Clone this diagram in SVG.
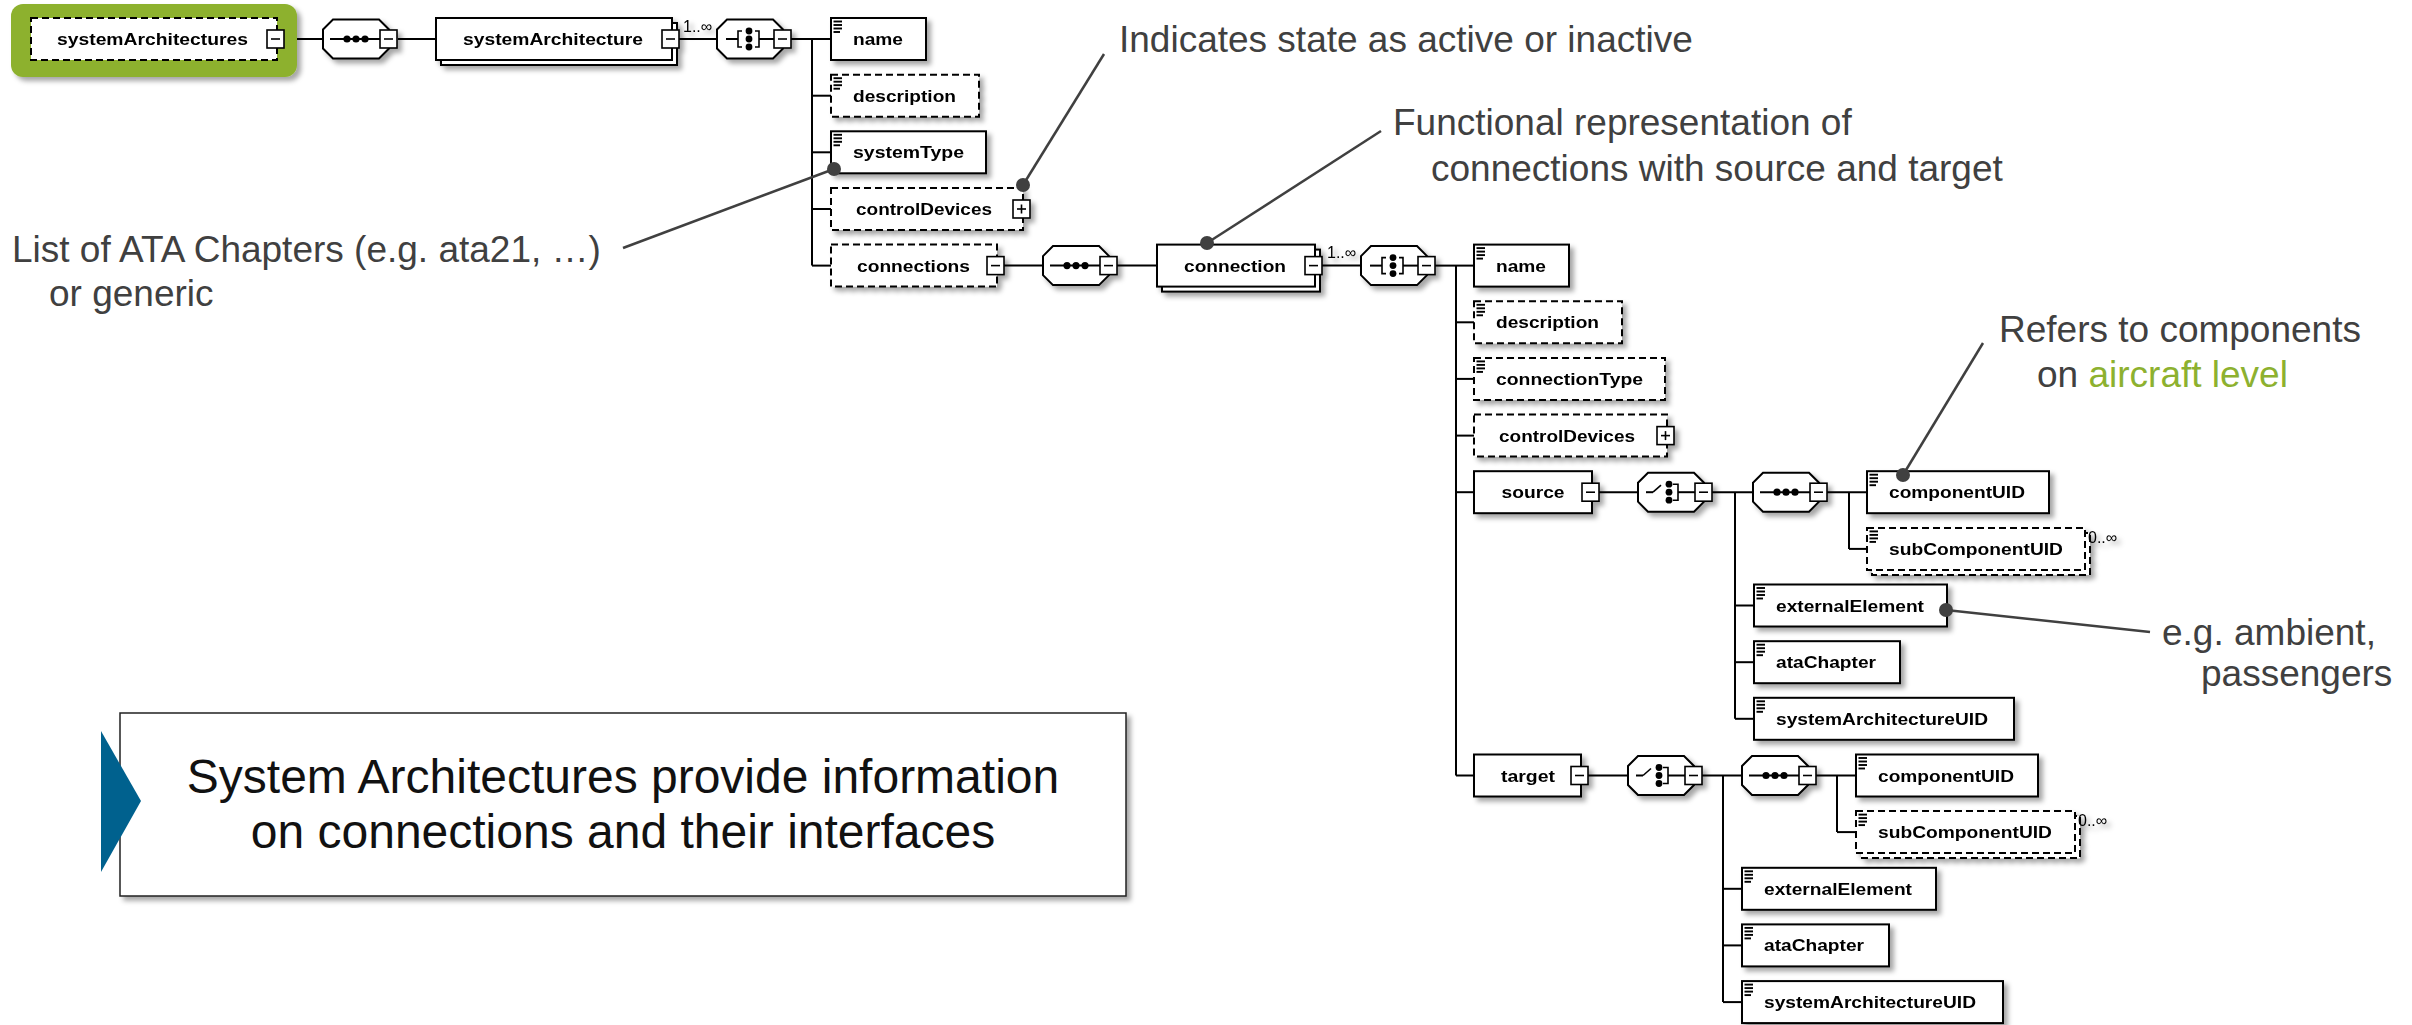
<svg xmlns="http://www.w3.org/2000/svg" xmlns:xlink="http://www.w3.org/1999/xlink" width="2412" height="1025" viewBox="0 0 2412 1025">
<style>
.box{fill:#fff;stroke:#000;stroke-width:2}
.opt{stroke-dasharray:7 4}
.btn{fill:#fff;stroke:#000;stroke-width:1.6}
.ln{stroke:#000;stroke-width:2;fill:none}
.thin{stroke:#000;stroke-width:1.6;fill:none}
.lbl{font-family:"Liberation Sans",Arial,sans-serif;font-weight:bold;font-size:17px;fill:#000}
.card{font-family:"Liberation Sans",Arial,sans-serif;font-size:16px;fill:#000}
.ann{font-family:"Liberation Sans",Arial,sans-serif;font-size:37px;fill:#404040}
.big{font-family:"Liberation Sans",Arial,sans-serif;font-size:48px;fill:#111}
.pt{stroke:#404040;stroke-width:2.5;fill:none}
.dot{fill:#404040}
</style>
<defs>
<filter id="sh" x="-10%" y="-20%" width="130%" height="160%">
<feDropShadow dx="4" dy="4" stdDeviation="2.5" flood-color="#000" flood-opacity="0.35"/>
</filter>
<g id="ico" stroke="#000" stroke-width="1.9">
<line x1="2.5" y1="3.5" x2="11" y2="3.5"/><line x1="2.5" y1="7" x2="11" y2="7"/><line x1="2.5" y1="10.5" x2="11" y2="10.5"/><line x1="2.5" y1="14" x2="9" y2="14"/>
</g>
<path id="oct" d="M0,-9.5 L10,-19.5 H56 L66,-9.5 V9.5 L56,19.5 H10 L0,9.5 Z" fill="#fff" stroke="#000" stroke-width="2"/>
<g id="cminus"><rect class="btn" x="57" y="-9" width="17" height="18"/><line class="thin" x1="61" y1="0" x2="70" y2="0"/></g>
<g id="seqI"><line class="ln" x1="7" y1="0" x2="57" y2="0"/><circle cx="24" cy="0" r="3.6"/><circle cx="33" cy="0" r="3.6"/><circle cx="42" cy="0" r="3.6"/></g>
<g id="allI"><line class="ln" x1="9" y1="0" x2="21" y2="0"/><path class="thin" d="M25,-8 H21 V8 H25"/><circle cx="32" cy="-8" r="3.4"/><circle cx="32" cy="0" r="3.4"/><circle cx="32" cy="8" r="3.4"/><path class="thin" d="M38,-8 H42 V8 H38"/><line class="ln" x1="42" y1="0" x2="57" y2="0"/></g>
<g id="choI"><line class="ln" x1="8" y1="0" x2="15" y2="0"/><line class="thin" x1="15" y1="0" x2="23" y2="-7"/><circle cx="31" cy="-8" r="3.4"/><circle cx="31" cy="0" r="3.4"/><circle cx="31" cy="8" r="3.4"/><path class="thin" d="M35,-8 H40 V8 H35"/><line class="ln" x1="40" y1="0" x2="57" y2="0"/></g>
</defs>
<rect width="2412" height="1025" fill="#fff"/>

<g id="connectors" class="ln">
<line x1="25" y1="39" x2="31" y2="39"/>
<line x1="284" y1="39" x2="323" y2="39"/>
<line x1="398" y1="39" x2="436" y2="39"/>
<line x1="679" y1="39" x2="717" y2="39"/>
<line x1="791" y1="39" x2="812" y2="39"/>
<line x1="812" y1="39" x2="812" y2="265.6"/>
<line x1="812" y1="39" x2="831" y2="39"/>
<line x1="812" y1="95.7" x2="831" y2="95.7"/>
<line x1="812" y1="152.3" x2="831" y2="152.3"/>
<line x1="812" y1="209" x2="831" y2="209"/>
<line x1="812" y1="265.6" x2="831" y2="265.6"/>
<line x1="1004" y1="265.6" x2="1043" y2="265.6"/>
<line x1="1117" y1="265.6" x2="1157" y2="265.6"/>
<line x1="1322" y1="265.6" x2="1361" y2="265.6"/>
<line x1="1435" y1="265.6" x2="1456" y2="265.6"/>
<line x1="1456" y1="265.6" x2="1456" y2="775.5"/>
<line x1="1456" y1="265.6" x2="1474" y2="265.6"/>
<line x1="1456" y1="322.3" x2="1474" y2="322.3"/>
<line x1="1456" y1="378.9" x2="1474" y2="378.9"/>
<line x1="1456" y1="435.6" x2="1474" y2="435.6"/>
<line x1="1456" y1="492.2" x2="1474" y2="492.2"/>
<line x1="1456" y1="775.5" x2="1474" y2="775.5"/>
<line x1="1599" y1="492.2" x2="1638" y2="492.2"/>
<line x1="1712" y1="492.2" x2="1753" y2="492.2"/>
<line x1="1735" y1="492.2" x2="1735" y2="718.8"/>
<line x1="1735" y1="605.5" x2="1754" y2="605.5"/>
<line x1="1735" y1="662.2" x2="1754" y2="662.2"/>
<line x1="1735" y1="718.8" x2="1754" y2="718.8"/>
<line x1="1827" y1="492.2" x2="1867" y2="492.2"/>
<line x1="1849" y1="492.2" x2="1849" y2="548.9"/>
<line x1="1849" y1="548.9" x2="1867" y2="548.9"/>
<line x1="1588" y1="775.5" x2="1628" y2="775.5"/>
<line x1="1702" y1="775.5" x2="1742" y2="775.5"/>
<line x1="1723" y1="775.5" x2="1723" y2="1002.1"/>
<line x1="1723" y1="888.8" x2="1742" y2="888.8"/>
<line x1="1723" y1="945.4" x2="1742" y2="945.4"/>
<line x1="1723" y1="1002.1" x2="1742" y2="1002.1"/>
<line x1="1816" y1="775.5" x2="1856" y2="775.5"/>
<line x1="1837" y1="775.5" x2="1837" y2="832.1"/>
<line x1="1837" y1="832.1" x2="1856" y2="832.1"/>
</g>

<g id="n-systemArchitectures" filter="url(#sh)">
<rect x="11" y="4" width="286" height="73" rx="12" fill="#8db12f"/>
<rect class="box opt" x="31" y="18" width="246" height="42"/>
<rect class="btn" x="267" y="30" width="17" height="18"/><line class="thin" x1="271" y1="39" x2="280" y2="39"/>
<text class="lbl" x="57" y="45" textLength="191" lengthAdjust="spacingAndGlyphs">systemArchitectures</text>
</g>
<g id="c-seq1" filter="url(#sh)" transform="translate(323,39)"><use href="#oct"/><use href="#seqI"/><use href="#cminus"/></g>
<g id="n-systemArchitecture" filter="url(#sh)">
<rect class="box" x="441" y="23" width="236" height="42"/>
<rect class="box" x="436" y="18" width="236" height="42"/>
<rect class="btn" x="662" y="30" width="17" height="18"/><line class="thin" x1="666" y1="39" x2="675" y2="39"/>
<text class="lbl" x="463" y="45" textLength="180" lengthAdjust="spacingAndGlyphs">systemArchitecture</text>
<text class="card" x="683" y="32">1..∞</text>
</g>
<g id="c-all1" filter="url(#sh)" transform="translate(717,39)"><use href="#oct"/><use href="#allI"/><use href="#cminus"/></g>

<g id="n-name" filter="url(#sh)"><rect class="box" x="831" y="18" width="95" height="42"/><use href="#ico" x="831" y="18"/><text class="lbl" x="853" y="45" textLength="50" lengthAdjust="spacingAndGlyphs">name</text></g>
<g id="n-description" filter="url(#sh)"><rect class="box opt" x="831" y="74.7" width="148" height="42"/><use href="#ico" x="831" y="74.7"/><text class="lbl" x="853" y="101.7" textLength="103" lengthAdjust="spacingAndGlyphs">description</text></g>
<g id="n-systemType" filter="url(#sh)"><rect class="box" x="831" y="131.3" width="155" height="42"/><use href="#ico" x="831" y="131.3"/><text class="lbl" x="853" y="158.3" textLength="111" lengthAdjust="spacingAndGlyphs">systemType</text></g>
<g id="n-controlDevices" filter="url(#sh)"><rect class="box opt" x="831" y="188" width="192" height="42"/>
<rect class="btn" x="1013" y="200" width="17" height="18"/><line class="thin" x1="1017" y1="209" x2="1026" y2="209"/><line class="thin" x1="1021.5" y1="204.5" x2="1021.5" y2="213.5"/>
<text class="lbl" x="924" y="215" text-anchor="middle" textLength="136" lengthAdjust="spacingAndGlyphs">controlDevices</text></g>
<g id="n-connections" filter="url(#sh)"><rect class="box opt" x="831" y="244.6" width="166" height="42"/>
<rect class="btn" x="987" y="256.6" width="17" height="18"/><line class="thin" x1="991" y1="265.6" x2="1000" y2="265.6"/>
<text class="lbl" x="857" y="271.6" textLength="113" lengthAdjust="spacingAndGlyphs">connections</text></g>
<g id="c-seq2" filter="url(#sh)" transform="translate(1043,265.6)"><use href="#oct"/><use href="#seqI"/><use href="#cminus"/></g>
<g id="n-connection" filter="url(#sh)">
<rect class="box" x="1162" y="249.6" width="158" height="42"/>
<rect class="box" x="1157" y="244.6" width="158" height="42"/>
<rect class="btn" x="1305" y="256.6" width="17" height="18"/><line class="thin" x1="1309" y1="265.6" x2="1318" y2="265.6"/>
<text class="lbl" x="1184" y="271.6" textLength="102" lengthAdjust="spacingAndGlyphs">connection</text>
<text class="card" x="1327" y="258">1..∞</text>
</g>
<g id="c-all2" filter="url(#sh)" transform="translate(1361,265.6)"><use href="#oct"/><use href="#allI"/><use href="#cminus"/></g>

<g id="n-conn-name" filter="url(#sh)"><rect class="box" x="1474" y="244.6" width="95" height="42"/><use href="#ico" x="1474" y="244.6"/><text class="lbl" x="1496" y="271.6" textLength="50" lengthAdjust="spacingAndGlyphs">name</text></g>
<g id="n-conn-description" filter="url(#sh)"><rect class="box opt" x="1474" y="301.3" width="148" height="42"/><use href="#ico" x="1474" y="301.3"/><text class="lbl" x="1496" y="328.3" textLength="103" lengthAdjust="spacingAndGlyphs">description</text></g>
<g id="n-connectionType" filter="url(#sh)"><rect class="box opt" x="1474" y="357.9" width="191" height="42"/><use href="#ico" x="1474" y="357.9"/><text class="lbl" x="1496" y="384.9" textLength="147" lengthAdjust="spacingAndGlyphs">connectionType</text></g>
<g id="n-conn-controlDevices" filter="url(#sh)"><rect class="box opt" x="1474" y="414.6" width="193" height="42"/>
<rect class="btn" x="1657" y="426.6" width="17" height="18"/><line class="thin" x1="1661" y1="435.6" x2="1670" y2="435.6"/><line class="thin" x1="1665.5" y1="431.1" x2="1665.5" y2="440.1"/>
<text class="lbl" x="1567" y="441.6" text-anchor="middle" textLength="136" lengthAdjust="spacingAndGlyphs">controlDevices</text></g>

<g id="n-source" filter="url(#sh)"><rect class="box" x="1474" y="471.2" width="118" height="42"/>
<rect class="btn" x="1582" y="483.2" width="17" height="18"/><line class="thin" x1="1586" y1="492.2" x2="1595" y2="492.2"/>
<text class="lbl" x="1533" y="498.2" text-anchor="middle" textLength="63" lengthAdjust="spacingAndGlyphs">source</text></g>
<g id="c-choice1" filter="url(#sh)" transform="translate(1638,492.2)"><use href="#oct"/><use href="#choI"/><use href="#cminus"/></g>
<g id="c-seq3" filter="url(#sh)" transform="translate(1753,492.2)"><use href="#oct"/><use href="#seqI"/><use href="#cminus"/></g>
<g id="n-src-componentUID" filter="url(#sh)"><rect class="box" x="1867" y="471.2" width="182" height="42"/><use href="#ico" x="1867" y="471.2"/><text class="lbl" x="1889" y="498.2" textLength="136" lengthAdjust="spacingAndGlyphs">componentUID</text></g>
<g id="n-src-subComponentUID" filter="url(#sh)">
<rect class="box opt" x="1872" y="532.9" width="218" height="42"/>
<rect class="box opt" x="1867" y="527.9" width="218" height="42"/><use href="#ico" x="1867" y="527.9"/>
<text class="lbl" x="1889" y="554.9" textLength="174" lengthAdjust="spacingAndGlyphs">subComponentUID</text>
<text class="card" x="2088" y="543">0..∞</text></g>
<g id="n-src-externalElement" filter="url(#sh)"><rect class="box" x="1754" y="584.5" width="193" height="42"/><use href="#ico" x="1754" y="584.5"/><text class="lbl" x="1776" y="611.5" textLength="148" lengthAdjust="spacingAndGlyphs">externalElement</text></g>
<g id="n-src-ataChapter" filter="url(#sh)"><rect class="box" x="1754" y="641.2" width="146" height="42"/><use href="#ico" x="1754" y="641.2"/><text class="lbl" x="1776" y="668.2" textLength="100" lengthAdjust="spacingAndGlyphs">ataChapter</text></g>
<g id="n-src-systemArchitectureUID" filter="url(#sh)"><rect class="box" x="1754" y="697.8" width="260" height="42"/><use href="#ico" x="1754" y="697.8"/><text class="lbl" x="1776" y="724.8" textLength="212" lengthAdjust="spacingAndGlyphs">systemArchitectureUID</text></g>

<g id="n-target" filter="url(#sh)"><rect class="box" x="1474" y="754.5" width="107" height="42"/>
<rect class="btn" x="1571" y="766.5" width="17" height="18"/><line class="thin" x1="1575" y1="775.5" x2="1584" y2="775.5"/>
<text class="lbl" x="1528" y="781.5" text-anchor="middle" textLength="54" lengthAdjust="spacingAndGlyphs">target</text></g>
<g id="c-choice2" filter="url(#sh)" transform="translate(1628,775.5)"><use href="#oct"/><use href="#choI"/><use href="#cminus"/></g>
<g id="c-seq4" filter="url(#sh)" transform="translate(1742,775.5)"><use href="#oct"/><use href="#seqI"/><use href="#cminus"/></g>
<g id="n-tgt-componentUID" filter="url(#sh)"><rect class="box" x="1856" y="754.5" width="182" height="42"/><use href="#ico" x="1856" y="754.5"/><text class="lbl" x="1878" y="781.5" textLength="136" lengthAdjust="spacingAndGlyphs">componentUID</text></g>
<g id="n-tgt-subComponentUID" filter="url(#sh)">
<rect class="box opt" x="1861" y="816.1" width="219" height="42"/>
<rect class="box opt" x="1856" y="811.1" width="219" height="42"/><use href="#ico" x="1856" y="811.1"/>
<text class="lbl" x="1878" y="838.1" textLength="174" lengthAdjust="spacingAndGlyphs">subComponentUID</text>
<text class="card" x="2078" y="826">0..∞</text></g>
<g id="n-tgt-externalElement" filter="url(#sh)"><rect class="box" x="1742" y="867.8" width="194" height="42"/><use href="#ico" x="1742" y="867.8"/><text class="lbl" x="1764" y="894.8" textLength="148" lengthAdjust="spacingAndGlyphs">externalElement</text></g>
<g id="n-tgt-ataChapter" filter="url(#sh)"><rect class="box" x="1742" y="924.4" width="147" height="42"/><use href="#ico" x="1742" y="924.4"/><text class="lbl" x="1764" y="951.4" textLength="100" lengthAdjust="spacingAndGlyphs">ataChapter</text></g>
<g id="n-tgt-systemArchitectureUID" filter="url(#sh)"><rect class="box" x="1742" y="981.1" width="261" height="42"/><use href="#ico" x="1742" y="981.1"/><text class="lbl" x="1764" y="1008.1" textLength="212" lengthAdjust="spacingAndGlyphs">systemArchitectureUID</text></g>

<g id="annotations">
<line class="pt" x1="834" y1="169" x2="623" y2="248"/><circle class="dot" cx="834" cy="169" r="7"/>
<line class="pt" x1="1023" y1="185" x2="1104" y2="54"/><circle class="dot" cx="1023" cy="185" r="7"/>
<line class="pt" x1="1207" y1="243" x2="1381" y2="131"/><circle class="dot" cx="1207" cy="243" r="7"/>
<line class="pt" x1="1903" y1="475" x2="1983" y2="343"/><circle class="dot" cx="1903" cy="475" r="7"/>
<line class="pt" x1="1946" y1="610" x2="2150" y2="632"/><circle class="dot" cx="1946" cy="610" r="7"/>
<text class="ann" x="1119" y="52">Indicates state as active or inactive</text>
<text class="ann" x="1393" y="135">Functional representation of</text>
<text class="ann" x="1431" y="181">connections with source and target</text>
<text class="ann" x="12" y="262">List of ATA Chapters (e.g. ata21, …)</text>
<text class="ann" x="49" y="306">or generic</text>
<text class="ann" x="1999" y="342">Refers to components</text>
<text class="ann" x="2037" y="387">on <tspan fill="#8db12f">aircraft level</tspan></text>
<text class="ann" x="2162" y="645">e.g. ambient,</text>
<text class="ann" x="2201" y="686">passengers</text>
</g>

<g id="summary">
<rect x="120" y="713" width="1006" height="183" fill="#fff" stroke="#222" stroke-width="1.5" filter="url(#sh)"/>
<polygon points="101,731 141,801 101,872" fill="#00618e"/>
<text class="big" x="623" y="793" text-anchor="middle">System Architectures provide information</text>
<text class="big" x="623" y="848" text-anchor="middle">on connections and their interfaces</text>
</g>
</svg>
